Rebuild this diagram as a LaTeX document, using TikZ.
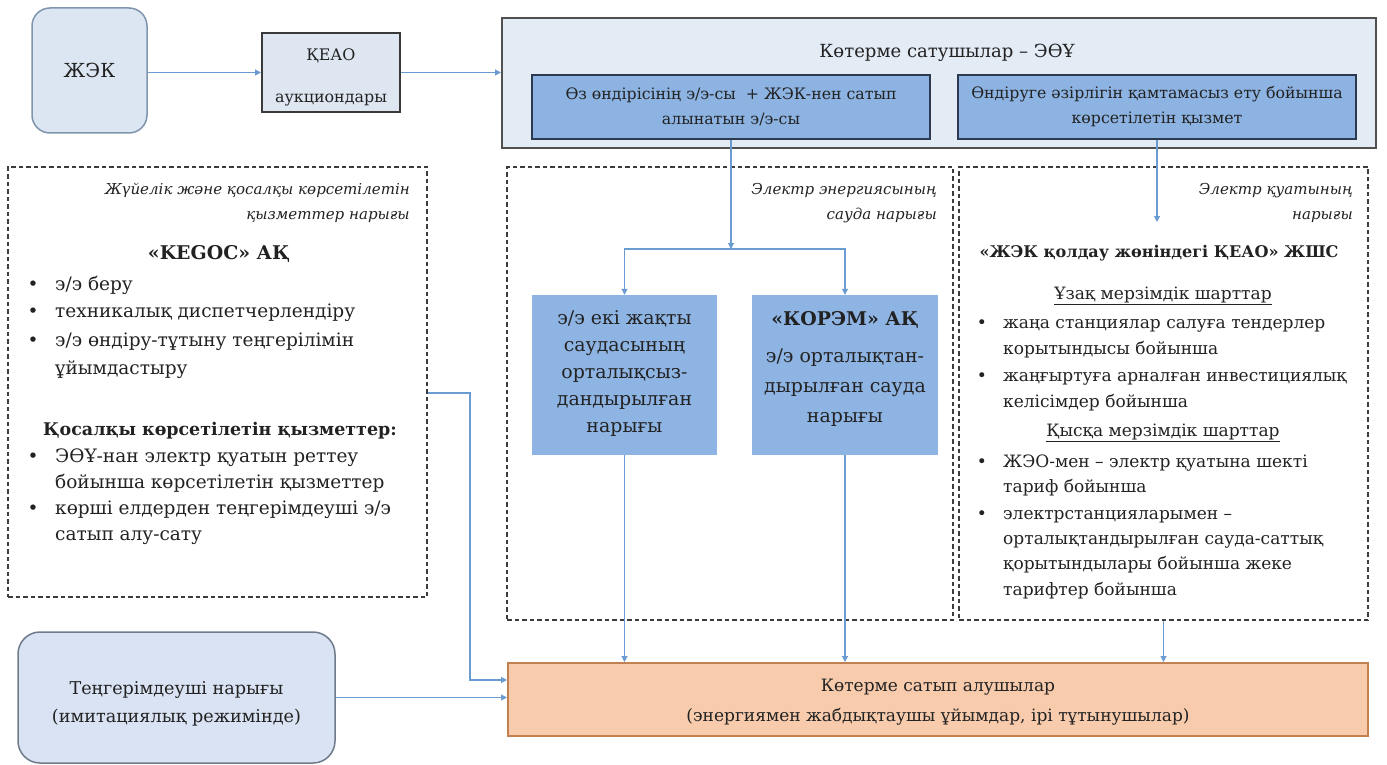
\documentclass[tikz,border=0pt]{standalone}
\usepackage{fontspec}
\setmainfont{DejaVu Serif}[Scale=0.86]
\usetikzlibrary{arrows.meta}
\definecolor{txt}{HTML}{222222}
\definecolor{arrc}{HTML}{6A9BD1}
\definecolor{dashc}{HTML}{3C3C3C}
\definecolor{zhekf}{HTML}{DCE6F2}
\definecolor{zhekd}{HTML}{8094AD}
\definecolor{keaof}{HTML}{DEE7F1}
\definecolor{keaod}{HTML}{3A3A3A}
\definecolor{sellf}{HTML}{E3EBF5}
\definecolor{selld}{HTML}{505050}
\definecolor{inf}{HTML}{8DB3E2}
\definecolor{ind}{HTML}{2B3A4F}
\definecolor{subf}{HTML}{8EB4E3}
\definecolor{buyf}{HTML}{F8CBAD}
\definecolor{buyd}{HTML}{C0804F}
\definecolor{tengf}{HTML}{DAE3F3}
\definecolor{tengd}{HTML}{6F7B8A}
\newcommand\fsz[2]{\fontsize{#1}{#2}\selectfont}
\tikzset{
  conn/.style={draw=arrc, line width=1.1pt, -{Triangle[length=6pt,width=6pt]}},
  dbox/.style={rectangle, draw=dashc, line width=1.6pt, dash pattern=on 4.5pt off 3pt, inner sep=0pt},
  ln/.style={inner sep=0pt, text height=0.72em, text depth=0.22em, anchor=west, text=txt},
  lst/.style={ln, font=\fsz{21.5}{26}},
  rlst/.style={ln, font=\fsz{19.8}{25}},
  ital/.style={ln, anchor=east, font=\fsz{17.5}{24}\itshape},
  bul/.style={ln, anchor=center},
  inbox/.style={rectangle, fill=inf, draw=ind, line width=1.5pt, minimum width=398pt, minimum height=64pt, inner sep=0pt, align=center, text=txt, font=\fsz{18.3}{25}},
  subbox/.style={rectangle, fill=subf, minimum width=185pt, minimum height=160pt, inner sep=0pt},
  multi/.style={inner sep=0pt, align=center, text=txt}
}
\begin{document}
\begin{tikzpicture}[x=1pt,y=-1pt]
\useasboundingbox[fill=white] (0,0) rectangle (1387,765);

% ---- top row
\node[rectangle, rounded corners=18pt, fill=zhekf, draw=zhekd, line width=1.5pt, minimum width=115pt, minimum height=125pt, inner sep=0pt, text=txt, font=\fsz{22.5}{26}] (zhek) at (89.5,70.5) {ЖЭК};
\node[rectangle, fill=keaof, draw=keaod, line width=2pt, minimum width=138pt, minimum height=79pt, inner sep=0pt] (keao) at (331,72.5) {};
\node[multi, font=\fsz{18.5}{22}] (keaoT) at (331,77) {ҚЕАО\\[20pt]аукциондары};
\node[rectangle, fill=sellf, draw=selld, line width=2pt, minimum width=874pt, minimum height=130pt, inner sep=0pt] (sell) at (939,83) {};
\node[ln, anchor=center, font=\fsz{21}{24}] (sellT) at (947,55) {Көтерме сатушылар – ЭӨҰ};
\node[inbox] (in1) at (731,107) {Өз өндірісінің э/э-сы \ + ЖЭК-нен сатып\\алынатын э/э-сы};
\node[inbox] (in2) at (1157,107) {Өндіруге әзірлігін қамтамасыз ету бойынша\\көрсетілетін қызмет};

\draw[conn] (zhek.east |- keao.west) -- (keao.west);
\draw[conn] (keao.east) -- (keao.east -| sell.west);

% ---- dashed market boxes
\node[dbox, minimum width=419pt, minimum height=430pt] (dashL) at (217.5,382) {};
\node[dbox, minimum width=446pt, minimum height=453pt] (dashM) at (730,393.5) {};
\node[dbox, minimum width=409pt, minimum height=453pt] (dashR) at (1163.5,393.5) {};

% left box
\node[ital] (hL1) at (410,192) {Жүйелік және қосалқы көрсетілетін};
\node[ital] (hL2) at (410,217) {қызметтер нарығы};
\node[ln, anchor=center, font=\fsz{22}{26}\bfseries] (kegoc) at (219,257) {«KEGOC» АҚ};
\node[bul, font=\fsz{21.5}{26}] (lb1) at (33,288) {•};
\node[lst] (l1) at (55,288) {э/э беру};
\node[bul, font=\fsz{21.5}{26}] (lb2) at (33,315) {•};
\node[lst] (l2) at (55,315) {техникалық диспетчерлендіру};
\node[bul, font=\fsz{21.5}{26}] (lb3) at (33,344) {•};
\node[lst] (l3) at (55,344) {э/э өндіру-тұтыну теңгерілімін};
\node[lst] (l4) at (55,372) {ұйымдастыру};
\node[ln, anchor=center, font=\fsz{20.3}{26}\bfseries] (aux) at (220,433) {Қосалқы көрсетілетін қызметтер:};
\node[bul, font=\fsz{21.5}{26}] (lb5) at (33,460) {•};
\node[lst] (l5) at (55,460) {ЭӨҰ-нан электр қуатын реттеу};
\node[lst] (l6) at (55,486) {бойынша көрсетілетін қызметтер};
\node[bul, font=\fsz{21.5}{26}] (lb7) at (33,512) {•};
\node[lst] (l7) at (55,512) {көрші елдерден теңгерімдеуші э/э};
\node[lst] (l8) at (55,538) {сатып алу-сату};

% middle box
\node[ital] (hM1) at (937,192) {Электр энергиясының};
\node[ital] (hM2) at (937,217) {сауда нарығы};
\node[subbox] (subL) at (624.5,375) {};
\node[subbox, minimum width=186pt] (subR) at (845,375) {};
\node[multi, font=\fsz{22}{27}] (subLt) at (624.5,373.5) {э/э екі жақты\\саудасының\\орталықсыз-\\дандырылған\\нарығы};
\node[multi, font=\fsz{22}{30}] (subRt) at (845,368.5) {{\bfseries «КОРЭМ» АҚ}\\[7pt]э/э орталықтан-\\дырылған сауда\\нарығы};

\coordinate (split) at (731,249);
\draw[conn] (in1.south) -- (split);
\draw[conn] (split) -| (subL.north);
\draw[conn] (split) -| (subR.north);

% right box
\node[ital] (hR1) at (1353,192) {Электр қуатының};
\node[ital] (hR2) at (1353,217) {нарығы};
\node[ln, anchor=center, font=\fsz{18.7}{24}\bfseries] (rT) at (1159,255) {«ЖЭК қолдау жөніндегі ҚЕАО» ЖШС};
\node[ln, anchor=center, font=\fsz{19.8}{25}] (rU1) at (1163,297) {\underline{Ұзақ мерзімдік шарттар}};
\node[bul, font=\fsz{19.8}{25}] (rb1) at (982,326) {•};
\node[rlst] (r1) at (1003,326) {жаңа станциялар салуға тендерлер};
\node[rlst] (r2) at (1003,352) {корытындысы бойынша};
\node[bul, font=\fsz{19.8}{25}] (rb3) at (982,379) {•};
\node[rlst] (r3) at (1003,379) {жаңғыртуға арналған инвестициялық};
\node[rlst] (r4) at (1003,405) {келісімдер бойынша};
\node[ln, anchor=center, font=\fsz{19.8}{25}] (rU2) at (1163,434) {\underline{Қысқа мерзімдік шарттар}};
\node[bul, font=\fsz{19.8}{25}] (rb5) at (982,465) {•};
\node[rlst] (r5) at (1003,465) {ЖЭО-мен – электр қуатына шекті};
\node[rlst] (r6) at (1003,490) {тариф бойынша};
\node[bul, font=\fsz{19.8}{25}] (rb7) at (982,517) {•};
\node[rlst] (r7) at (1003,517) {электрстанцияларымен –};
\node[rlst] (r8) at (1003,542) {орталықтандырылған сауда-саттық};
\node[rlst] (r9) at (1003,567) {қорытындылары бойынша жеке};
\node[rlst] (r10) at (1003,593) {тарифтер бойынша};

\coordinate (rEnd) at (1157,222);
\draw[conn] (in2.south) -- (rEnd);

% ---- bottom row
\node[rectangle, fill=buyf, draw=buyd, line width=2pt, minimum width=860pt, minimum height=73pt, inner sep=0pt] (buy) at (938,699.5) {};
\node[multi, font=\fsz{19.8}{30}] (buyT) at (938,702) {Көтерме сатып алушылар\\(энергиямен жабдықтаушы ұйымдар, ірі тұтынушылар)};
\node[rectangle, rounded corners=22pt, fill=tengf, draw=tengd, line width=1.5pt, minimum width=317pt, minimum height=131pt, inner sep=0pt] (teng) at (176.5,697.5) {};
\node[multi, font=\fsz{20.5}{28}] (tengT) at (176.5,704) {Теңгерімдеуші нарығы\\(имитациялық режимінде)};

\draw[conn] (subL.south) -- (subL.south |- buy.north);
\draw[conn] (subR.south) -- (subR.south |- buy.north);
\draw[conn] (dashR.south) -- (dashR.south |- buy.north);
\coordinate (bendL) at (470,680);
\draw[conn] ([yshift=-11pt]dashL.east) -| (bendL) -- (bendL -| buy.west);
\draw[conn] (teng.east) -- (teng.east -| buy.west);
\end{tikzpicture}
\end{document}
